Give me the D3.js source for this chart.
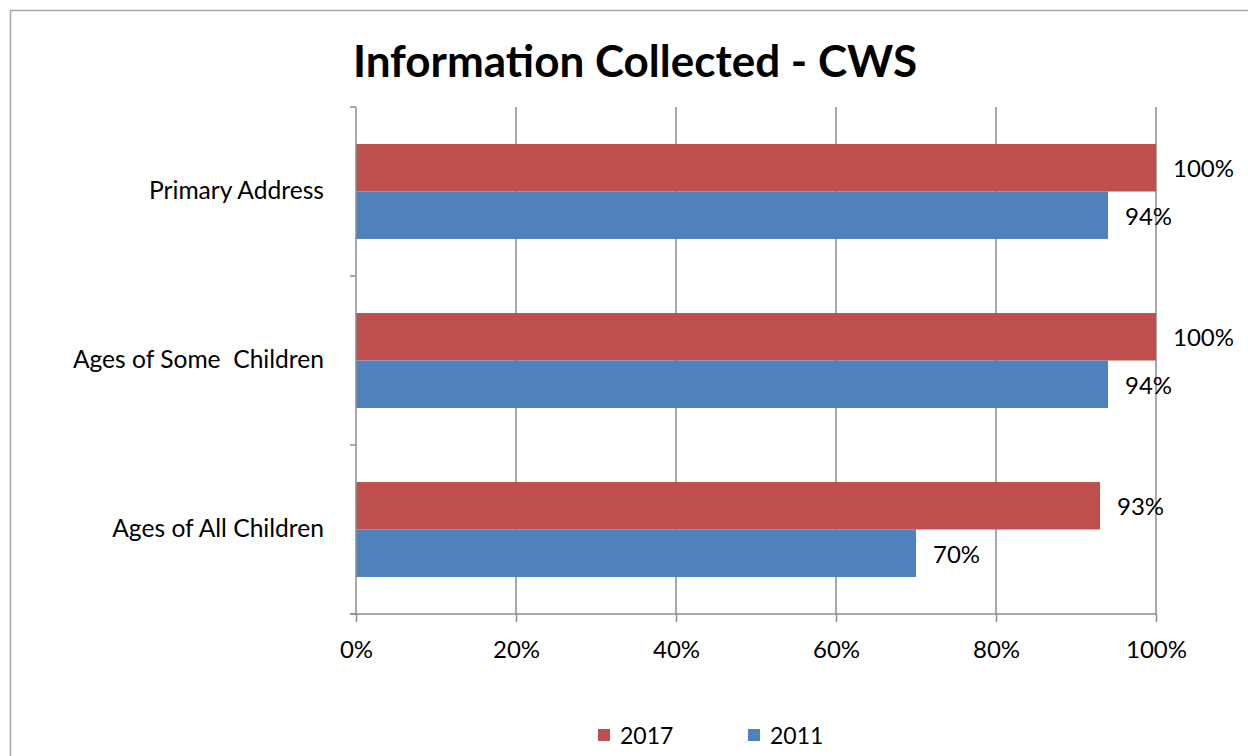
<!DOCTYPE html>
<html><head><meta charset="utf-8">
<script src="https://cdn.jsdelivr.net/npm/d3@7"></script>
<style>body{margin:0;background:#fff;}svg{display:block;}</style>
</head><body>
<svg id="c" width="1248" height="756"></svg>
<script>
const categories = ["Primary Address", "Ages of Some  Children", "Ages of All Children"];
const seriesNames = ["2017", "2011"];
const values2017 = [100, 100, 93];
const values2011 = [94, 94, 70];
const xTicks = [0, 20, 40, 60, 80, 100];
const colors = ["#C0504D", "#4F81BD"];
const font = "Lato, 'Open Sans', sans-serif";

const svg = d3.select("#c");
svg.append("rect").attr("x",10.5).attr("y",10.5).attr("width",1300).attr("height",800)
  .attr("fill","#fff").attr("stroke","#a6a6a6").attr("stroke-width",1.5);

const L=356, R=1156, T=107, B=614;
const x = d3.scaleLinear().domain([0,100]).range([L,R]);
const y = d3.scaleBand().domain(categories).range([T,B]);
const sub = d3.scaleBand().domain(seriesNames).range([0,y.bandwidth()]).paddingOuter(0.78);

// gridlines
svg.append("g").selectAll("line").data(xTicks.slice(1)).join("line")
  .attr("x1",d=>x(d)).attr("x2",d=>x(d)).attr("y1",T).attr("y2",B)
  .attr("stroke","#8c8c8c").attr("stroke-width",1.5);

// bars
const data = categories.map((c,i)=>({c, v:[values2017[i], values2011[i]]}));
const g = svg.append("g");
data.forEach(d=>{
  seriesNames.forEach((s,j)=>{
    g.append("rect").attr("x",x(0)).attr("y",y(d.c)+sub(s))
      .attr("width",x(d.v[j])-x(0)).attr("height",sub.bandwidth()).attr("fill",colors[j]);
    g.append("text").attr("x",x(d.v[j])+17).attr("y",y(d.c)+sub(s)+sub.bandwidth()/2+1)
      .attr("dy","0.35em").attr("font-family",font).attr("font-size",24).attr("fill","#000")
      .text(d.v[j]+"%");
  });
});

// x axis
const xa = svg.append("g").attr("transform",`translate(0,${B})`)
  .call(d3.axisBottom(x).tickValues(xTicks).tickFormat(d=>d+"%").tickSize(8).tickSizeOuter(0).tickPadding(19));
xa.select(".domain").attr("stroke","#8c8c8c").attr("stroke-width",1.5).attr("d",`M${L-6},0H${R}`);
xa.selectAll(".tick line").attr("stroke","#8c8c8c").attr("stroke-width",1.5);
xa.selectAll("text").attr("font-family",font).attr("font-size",24).attr("fill","#000");

// y axis
const ya = svg.append("g").attr("transform",`translate(${L},0)`)
  .call(d3.axisLeft(y).tickSize(0).tickPadding(32));
ya.select(".domain").attr("stroke","#8c8c8c").attr("stroke-width",1.5).attr("d",`M0,${T}V${B}`);
ya.selectAll("text").attr("font-family",font).attr("font-size",24.6).attr("fill","#000").style("white-space","pre");
ya.append("g").selectAll("line").data([T, ...categories.map(c=>y(c)+y.bandwidth())]).join("line")
  .attr("x1",-6).attr("x2",0).attr("y1",d=>d).attr("y2",d=>d).attr("stroke","#8c8c8c").attr("stroke-width",1.5);

// title
svg.append("text").attr("x",635).attr("y",77).attr("text-anchor","middle")
  .attr("font-family",font).attr("font-weight","bold").attr("font-size",44).attr("fill","#000")
  .text("Information Collected - CWS");

// legend
const lg = svg.append("g");
const lx = [598, 748];
seriesNames.forEach((s,j)=>{
  lg.append("rect").attr("x",lx[j]).attr("y",729).attr("width",12).attr("height",12).attr("fill",colors[j]);
  lg.append("text").attr("x",lx[j]+22).attr("y",736).attr("dy","0.35em")
    .attr("font-family",font).attr("font-size",23).attr("fill","#000").text(s);
});
</script>
</body></html>
